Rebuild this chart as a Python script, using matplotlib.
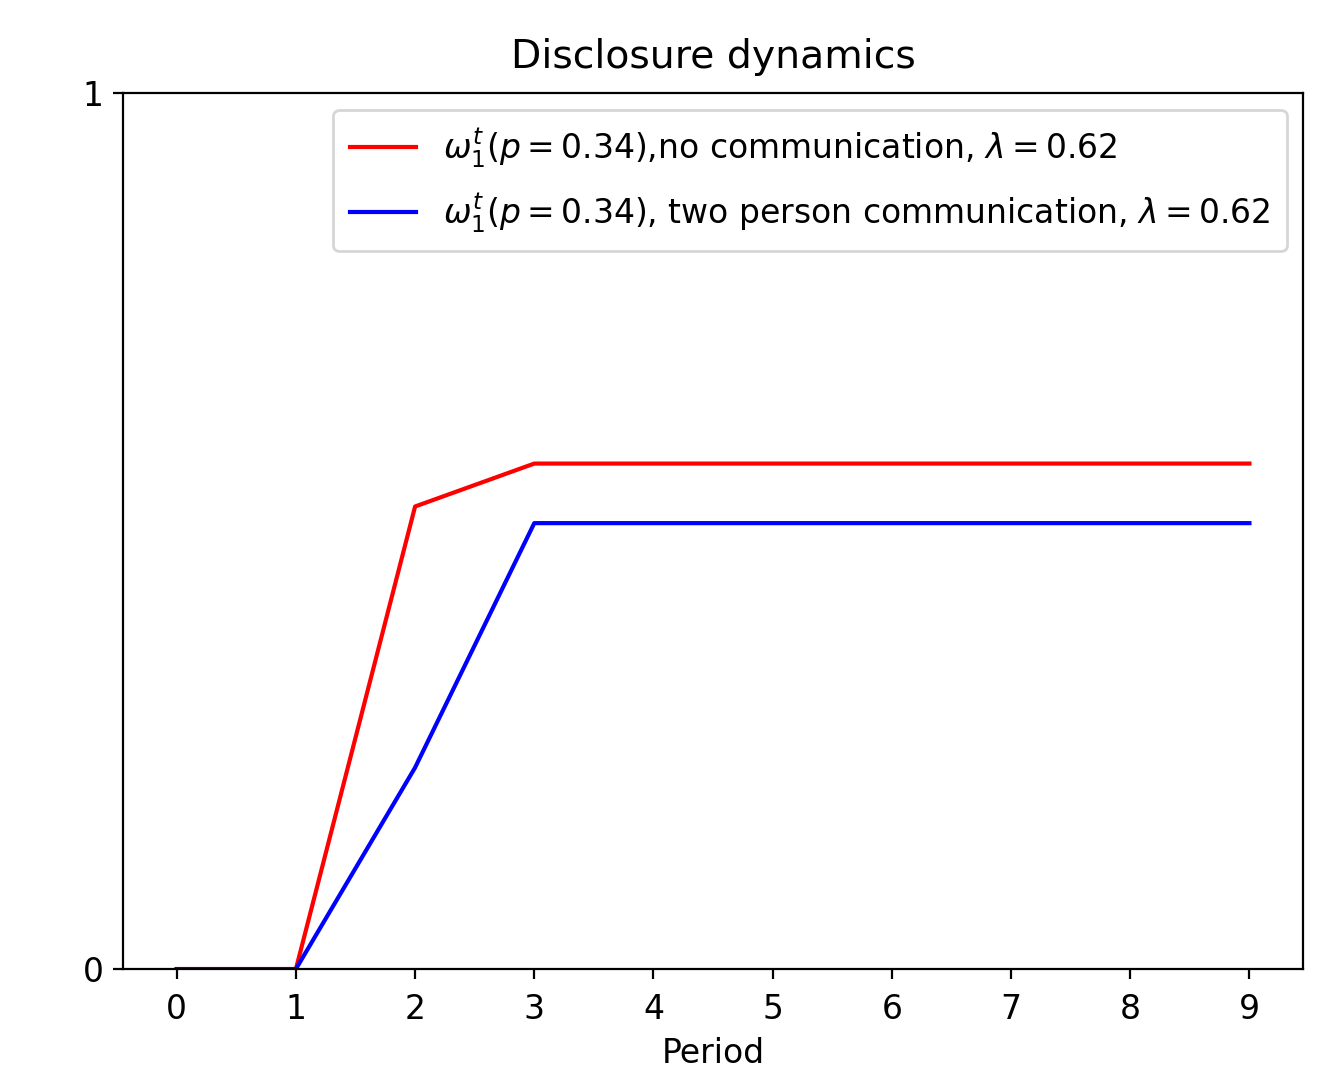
import matplotlib
matplotlib.use("Agg")
import matplotlib.pyplot as plt

periods = [0, 1, 2, 3, 4, 5, 6, 7, 8, 9]
no_comm = [0, 0, 0.528, 0.577, 0.577, 0.577, 0.577, 0.577, 0.577, 0.577]
two_person = [0, 0, 0.230, 0.509, 0.509, 0.509, 0.509, 0.509, 0.509, 0.509]

plt.rcParams["font.size"] = 11.9

fig = plt.figure(figsize=(6.71, 5.345), dpi=200)
ax = fig.add_axes([0.0917, 0.0935, 0.8793, 0.8195])
ax.plot(periods, no_comm, color="red",
        label=r"$\omega_1^t(p=0.34)$,no communication, $\lambda=0.62$")
ax.plot(periods, two_person, color="blue",
        label=r"$\omega_1^t(p=0.34)$, two person communication, $\lambda=0.62$")
ax.set_ylim(0, 1)
ax.set_yticks([0, 1])
ax.set_xticks(periods)
ax.tick_params(axis="x", pad=5)
ax.set_xlabel("Period", labelpad=4)
ax.set_title("Disclosure dynamics", fontsize=14.2, pad=9)
ax.legend(loc="upper right", labelspacing=0.65, borderpad=0.5)
fig.savefig("out.png", dpi=200)
